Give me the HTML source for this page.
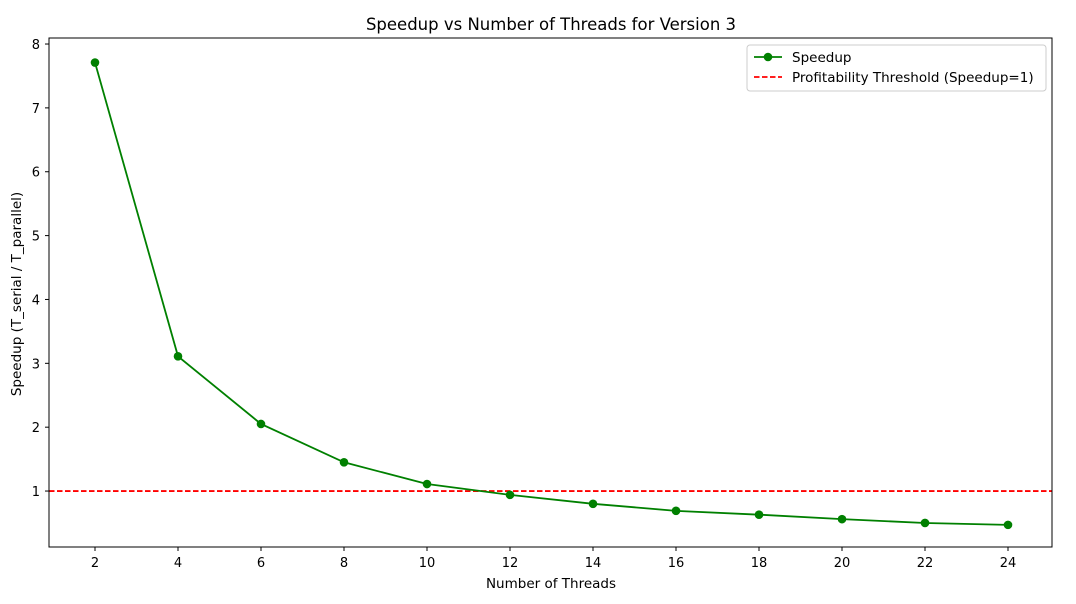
<!DOCTYPE html>
<html><head><meta charset="utf-8"><style>
body{margin:0;background:#fff;}
svg{display:block;font-family:"DejaVu Sans","Liberation Sans",sans-serif;}
</style></head><body>
<svg id="chart" width="1076" height="604">
<rect width="1076" height="604" fill="#fff"/>
<text x="551" y="30" text-anchor="middle" font-size="16.5">Speedup vs Number of Threads for Version 3</text>
<text x="551" y="588" text-anchor="middle" font-size="13.5">Number of Threads</text>
<text transform="translate(21,294) rotate(-90)" text-anchor="middle" font-size="13.5">Speedup (T_serial / T_parallel)</text>
<g id="ticks"></g>
<g id="plot"></g>
<rect x="49" y="38" width="1003" height="509" fill="none" stroke="#000" stroke-width="1"/>
<g>
<rect x="747" y="45" width="299" height="46" fill="#fff" stroke="#ccc" rx="3"/>
<g>
<line x1="754" y1="57" x2="782" y2="57" stroke="green" stroke-width="1.8"/>
<circle cx="768" cy="57" r="4.3" fill="green"/>
<text x="792" y="62" font-size="13.5">Speedup</text></g>
<g>
<line x1="754" y1="77" x2="782" y2="77" stroke="red" stroke-width="1.8" stroke-dasharray="5.5,2.5"/>
<text x="792" y="82" font-size="13.5">Profitability Threshold (Speedup=1)</text></g>
</g>
</svg>
<script>
const threads=[2,4,6,8,10,12,14,16,18,20,22,24];
const speedup=[7.71,3.11,2.05,1.45,1.11,0.94,0.80,0.69,0.63,0.56,0.50,0.47];
const xTicks=[2,4,6,8,10,12,14,16,18,20,22,24];
const yTicks=[1,2,3,4,5,6,7,8];
const threshold=1;
const X=v=>95+(v-2)*(913/22);
const Y=v=>554.9-v*63.86;
const NS='http://www.w3.org/2000/svg';
function mk(t,a,p){const e=document.createElementNS(NS,t);for(const k in a)e.setAttribute(k,a[k]);p.appendChild(e);return e;}
const tg=document.getElementById('ticks'),pg=document.getElementById('plot');
xTicks.forEach(v=>{mk('line',{x1:X(v),x2:X(v),y1:547,y2:551,stroke:'#000'},tg);
const t=mk('text',{x:X(v),y:567,'text-anchor':'middle','font-size':13},tg);t.textContent=v;

});
yTicks.forEach(v=>{mk('line',{x1:45,x2:49,y1:Y(v),y2:Y(v),stroke:'#000'},tg);
const t=mk('text',{x:40,y:Y(v)+5,'text-anchor':'end','font-size':13},tg);t.textContent=v;

});
const th=mk('line',{x1:49,x2:1052,y1:Y(threshold),y2:Y(threshold),stroke:'red','stroke-width':1.8,'stroke-dasharray':'5.5,2.5'},pg);


const ln=mk('polyline',{points:threads.map((t,i)=>X(t)+','+Y(speedup[i])).join(' '),fill:'none',stroke:'green','stroke-width':1.8},pg);


threads.forEach((t,i)=>{const c=mk('circle',{cx:X(t),cy:Y(speedup[i]),r:4.3,fill:'green'},pg);

});
</script>
</body></html>
